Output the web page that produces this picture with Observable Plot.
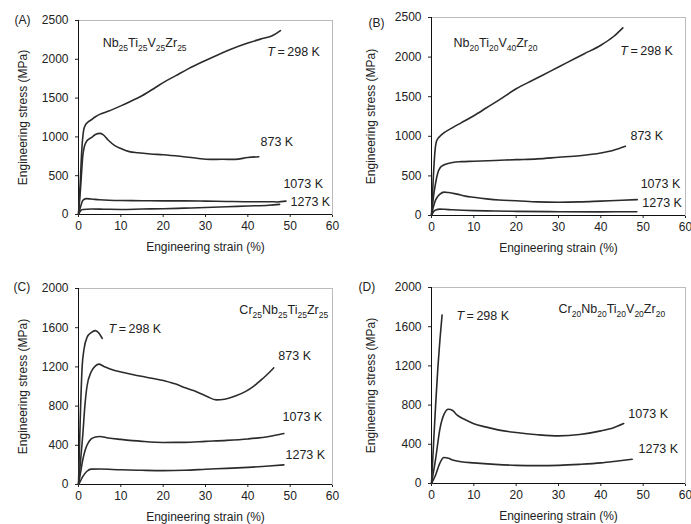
<!DOCTYPE html>
<html><head><meta charset="utf-8">
<script src="https://cdn.jsdelivr.net/npm/d3@7"></script>
<script src="https://cdn.jsdelivr.net/npm/@observablehq/plot@0.6"></script>
<style>
body{margin:0;background:#fff;}
#chart{position:relative;width:691px;height:524px;overflow:hidden;background:#fff;}
.panel{position:absolute;}
</style></head><body><div id="chart"></div>
<script>
// ---- tick labels ----
const strainTicks = [0, 10, 20, 30, 40, 50, 60];
const stressTicksAB = [0, 500, 1000, 1500, 2000, 2500];
const stressTicksCD = [0, 400, 800, 1200, 1600, 2000];
const xTitle = "Engineering strain (%)";
const yTitle = "Engineering stress (MPa)";

// ---- series: [strain %, stress MPa] ----
const a298 = [[0,0],[0.4,400],[0.8,850],[1.2,1080],[1.6,1150],[2,1180],[3,1220],[4,1260],[5,1290],[7,1330],[10,1400],[12,1450],[15,1530],[18,1630],[20,1700],[23,1790],[26,1880],[30,1985],[33,2060],[36,2130],[40,2210],[43,2260],[46,2310],[47.7,2370]];
const a873 = [[0,0],[0.5,350],[1,750],[1.4,880],[2,950],[3,990],[4,1030],[5,1045],[5.8,1030],[7,960],[8.5,890],[10,850],[12,810],[14,795],[17,780],[20,770],[24,750],[28,725],[31,710],[34,712],[37,710],[40,735],[42.6,745]];
const a1073 = [[0,0],[0.6,120],[1,180],[1.8,205],[3,200],[5,190],[10,180],[15,178],[20,175],[25,175],[30,172],[35,168],[40,165],[45,165],[47,162],[49,172]];
const a1273 = [[0,0],[0.5,50],[1,65],[3,70],[6,68],[10,65],[15,70],[20,75],[25,82],[30,90],[35,100],[40,110],[45,120],[47.5,130]];

const b298 = [[0,0],[0.4,450],[0.8,800],[1.2,940],[2,1000],[3,1045],[5,1110],[7,1170],[10,1260],[13,1360],[16,1460],[20,1600],[24,1710],[28,1820],[32,1930],[36,2040],[40,2150],[43,2260],[45.2,2370]];
const b873 = [[0,0],[0.5,250],[1,420],[1.5,540],[2,600],[3,640],[5,670],[7,680],[10,685],[15,695],[20,705],[25,715],[30,735],[35,755],[40,790],[43,825],[45.8,875]];
const b1073 = [[0,0],[0.5,120],[1,200],[2,270],[3,295],[4,290],[6,270],[8,245],[10,230],[13,210],[16,195],[20,187],[25,172],[30,168],[35,172],[40,182],[45,192],[48.6,200]];
const b1273 = [[0,0],[0.5,50],[1,70],[2,80],[3,78],[5,72],[10,62],[15,57],[20,52],[30,48],[40,46],[48.5,48]];

const c298 = [[0,0],[0.4,650],[0.86,1200],[1.3,1380],[2,1500],[3,1550],[4,1570],[4.8,1545],[5.6,1490]];
const c873 = [[0,0],[0.5,250],[1,500],[1.5,800],[2,1000],[3,1150],[4,1210],[4.8,1228],[6,1205],[8,1170],[10.6,1143],[13,1120],[16,1095],[20.3,1058],[23,1025],[25,990],[28,945],[30.5,895],[32.5,864],[34.5,870],[37.2,905],[39.5,950],[41.5,1007],[43.5,1080],[45,1140],[46.1,1190]];
const c1073 = [[0,0],[0.6,150],[1,250],[1.5,340],[2,400],[3,465],[4,485],[5,490],[7,475],[10,460],[15,440],[20,429],[25,430],[30,440],[35,450],[40,465],[45,490],[48.5,520]];
const c1273 = [[0,0],[0.5,40],[1,80],[2,135],[3,157],[5,158],[10,150],[15,145],[20,142],[25,145],[30,155],[35,165],[40,175],[45,188],[48.5,200]];

const d298 = [[0,0],[0.5,420],[1,820],[1.5,1180],[2,1470],[2.5,1720]];
const d1073 = [[0,0],[1,260],[2,560],[3,710],[4,758],[5,745],[6,700],[8,650],[10,610],[13,575],[16,545],[20,520],[25,498],[30,486],[35,500],[40,537],[43,570],[45.4,612]];
const d1273 = [[0,0],[1,90],[2,210],[2.9,265],[4,258],[5,240],[7,222],[10,210],[15,195],[20,185],[25,182],[30,185],[35,195],[40,210],[44,230],[47.4,248]];

// ---- annotations: text, strain, stress ----
const T298 = "T\u2009=\u2009298 K";
const aNotes = [[T298,44.6,2088],["873 K",43.0,928],["1073 K",48.4,387],["1273 K",50.1,155],["Nb25Ti25V25Zr25",5.7,2204]];
const bNotes = [[T298,44.6,2083],["873 K",47.0,1010],["1073 K",49.4,404],["1273 K",49.8,164],["Nb20Ti20V40Zr20",5.2,2172]];
const cNotes = [[T298,7.1,1582],["873 K",47.2,1316],["1073 K",48.2,684],["1273 K",48.9,296],["Cr25Nb25Ti25Zr25",38.0,1776]];
const dNotes = [[T298,5.9,1714],["1073 K",46.5,714],["1273 K",48.9,347],["Cr20Nb20Ti20V20Zr20",30.0,1776]];

const panels = [
  {letter:"(A)", curves:{"298":a298,"873":a873,"1073":a1073,"1273":a1273}, notes:aNotes, yticks:stressTicksAB,
   left:0, top:0, w:345, ml:78, mr:13, mt:20, mb:48, ldx:-64, ldy:0, ylo:60},
  {letter:"(B)", curves:{"298":b298,"873":b873,"1073":b1073,"1273":b1273}, notes:bNotes, yticks:stressTicksAB,
   left:345, top:0, w:346, ml:86, mr:6, mt:17, mb:47, ldx:-63, ldy:6, ylo:65},
  {letter:"(C)", curves:{"298":c298,"873":c873,"1073":c1073,"1273":c1273}, notes:cNotes, yticks:stressTicksCD,
   left:0, top:262, w:345, ml:78, mr:13, mt:26, mb:40, ldx:-65, ldy:-1, ylo:60},
  {letter:"(D)", curves:{"298":d298,"1073":d1073,"1273":d1273}, notes:dNotes, yticks:stressTicksCD,
   left:345, top:262, w:346, ml:86, mr:6, mt:25, mb:41, ldx:-73, ldy:0, ylo:65}
];

const FONT = '"Liberation Sans", Arial, Helvetica, sans-serif';
const ink = "#222";

function richify(svg) {
  d3.select(svg).selectAll("text").each(function() {
    const t = this.textContent;
    if (/^(?:[A-Z][a-z]?\d+){2,}$/.test(t)) {
      const sel = d3.select(this);
      sel.text(null);
      const parts = t.match(/[A-Z][a-z]?|\d+/g);
      let sub = false;
      parts.forEach(p => {
        const isNum = /^\d+$/.test(p);
        const ts = sel.append("tspan").text(p);
        if (isNum) { ts.attr("font-size", 8.5).attr("dy", sub ? 0 : 3.5); sub = true; }
        else { if (sub) ts.attr("dy", -3.5); sub = false; }
      });
    } else if (t.startsWith("T\u2009=")) {
      const sel = d3.select(this);
      sel.text(null);
      sel.append("tspan").attr("font-style", "italic").text("T");
      sel.append("tspan").text(t.slice(1));
    }
  });
}

const chart = document.getElementById("chart");
for (const p of panels) {
  const rows = Object.entries(p.curves).flatMap(([temp, pts]) => pts.map(([s, v]) => ({temp, strain: s, stress: v})));
  const notes = p.notes.map(([text, x, y]) => ({text, x, y}));
  const svg = Plot.plot({
    width: p.w, height: 262,
    marginLeft: p.ml, marginRight: p.mr, marginTop: p.mt, marginBottom: p.mb,
    style: {fontFamily: FONT, fontSize: "12px", color: ink, background: "white", overflow: "visible"},
    x: {domain: [0, 60], ticks: strainTicks, tickFormat: d3.format("d"), tickSize: 3, tickPadding: 4,
        label: xTitle, labelAnchor: "center", labelOffset: 36, labelArrow: "none"},
    y: {domain: [0, p.yticks[p.yticks.length - 1]], ticks: p.yticks, tickFormat: d3.format("d"), tickSize: 3, tickPadding: 7,
        label: yTitle, labelAnchor: "center", labelOffset: p.ylo, labelArrow: "none"},
    marks: [
      Plot.frame({stroke: "#bbb"}),
      Plot.ruleX([0], {stroke: "#111"}),
      Plot.ruleY([0], {stroke: "#111"}),
      Plot.line(rows, {x: "strain", y: "stress", z: "temp", stroke: "#2b2b2b", strokeWidth: 1.6, curve: "monotone-x"}),
      Plot.text(notes, {x: "x", y: "y", text: "text", textAnchor: "start", fontSize: 12.5, fill: ink}),
      Plot.text([p.letter], {text: d => d, frameAnchor: "top-left", textAnchor: "start", lineAnchor: "middle", dx: p.ldx, dy: p.ldy, fontSize: 12, fill: ink})
    ]
  });
  richify(svg);
  const div = document.createElement("div");
  div.className = "panel";
  div.style.left = p.left + "px";
  div.style.top = p.top + "px";
  div.appendChild(svg);
  chart.appendChild(div);
}
</script></body></html>
